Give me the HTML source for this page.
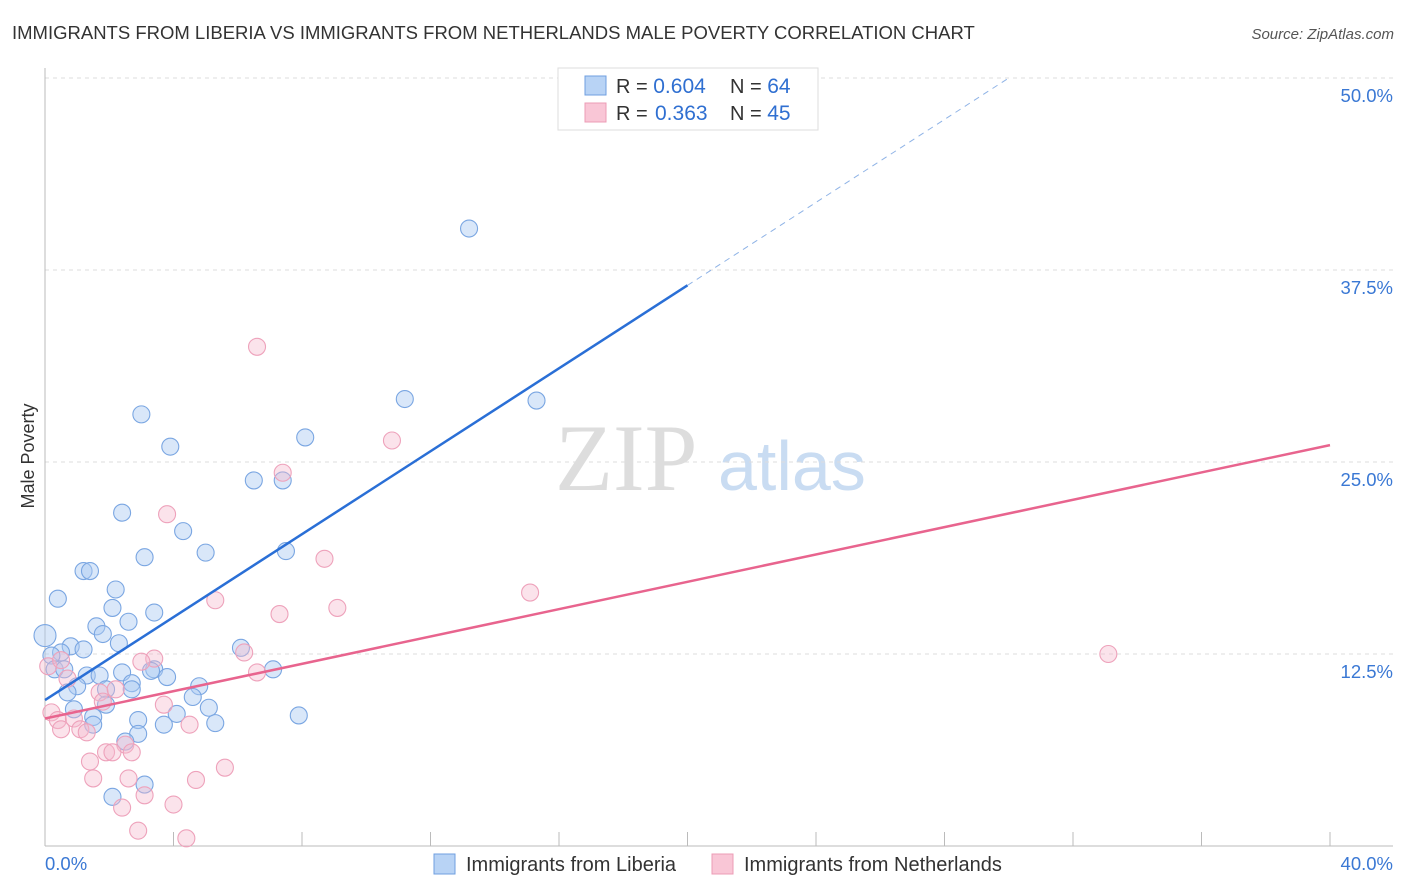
<!DOCTYPE html>
<html><head><meta charset="utf-8">
<style>
body{margin:0;background:#fff;font-family:"Liberation Sans",sans-serif;}
svg{display:block}
</style></head>
<body>
<svg id="chart" width="1406" height="892">
<text x="12" y="39" font-size="18.5" fill="#333">IMMIGRANTS FROM LIBERIA VS IMMIGRANTS FROM NETHERLANDS MALE POVERTY CORRELATION CHART</text>
<text x="1394" y="39" font-size="15" fill="#555" font-style="italic" text-anchor="end">Source: ZipAtlas.com</text>
<text x="34" y="456" font-size="18" fill="#333" text-anchor="middle" transform="rotate(-90 34 456)">Male Poverty</text>
<text x="555" y="490" font-size="95" fill="#ddd" font-family="Liberation Serif,serif">ZIP</text>
<text x="718" y="490" font-size="70" fill="#c9dcf2">atlas</text>
<g id="grid"></g>
<g id="axes"></g>
<g id="marks"></g>
<g id="lines"></g>
<g>
<rect x="558" y="68" width="260" height="62" fill="#fff" stroke="#ddd"/>
<rect x="585" y="76" width="21" height="19" fill="#b8d3f5" stroke="#6f9fe0"/>
<rect x="585" y="103" width="21" height="19" fill="#f9c6d6" stroke="#ec9cb6"/>
<text x="616" y="93" font-size="20" fill="#333">R = <tspan font-size="21" fill="#2f6fd1">0.604</tspan></text>
<text x="730" y="93" font-size="20" fill="#333">N = <tspan font-size="21" fill="#2f6fd1">64</tspan></text>
<text x="616" y="120" font-size="20" fill="#333">R = <tspan x="655" font-size="21" fill="#2f6fd1">0.363</tspan></text>
<text x="730" y="120" font-size="20" fill="#333">N = <tspan font-size="21" fill="#2f6fd1">45</tspan></text>
</g>
<g>
<rect x="434" y="854" width="21" height="20" fill="#b8d3f5" stroke="#6f9fe0"/>
<text x="466" y="871" font-size="20" fill="#333">Immigrants from Liberia</text>
<rect x="712" y="854" width="21" height="20" fill="#f9c6d6" stroke="#ec9cb6"/>
<text x="744" y="871" font-size="20" fill="#333">Immigrants from Netherlands</text>
</g>
</svg>
<script>
const liberiaX=[13.2,11.2,15.3,3.0,3.9,8.1,6.5,7.4,2.4,4.3,5.0,7.5,3.1,1.2,1.4,2.2,0.4,3.4,2.1,2.6,1.6,1.8,2.3,0.0,0.8,1.2,0.5,0.2,6.1,7.1,0.3,0.6,3.4,3.3,2.4,1.3,1.7,3.8,2.7,2.7,1.0,0.7,1.9,4.8,4.6,1.9,5.1,0.9,1.5,4.1,2.9,7.9,5.3,3.7,1.5,2.9,2.5,3.1,2.1];
const liberiaY=[40.2,29.1,29.0,28.1,26.0,26.6,23.8,23.8,21.7,20.5,19.1,19.2,18.8,17.9,17.9,16.7,16.1,15.2,15.5,14.6,14.3,13.8,13.2,13.7,13.0,12.8,12.6,12.4,12.9,11.5,11.5,11.5,11.5,11.4,11.3,11.1,11.1,11.0,10.6,10.2,10.4,10.0,10.2,10.4,9.7,9.2,9.0,8.9,8.4,8.6,8.2,8.5,8.0,7.9,7.9,7.3,6.8,4.0,3.2];
const nethX=[6.6,10.8,7.4,3.8,8.7,15.1,5.3,7.3,9.1,33.1,6.2,3.4,3.0,6.6,0.1,0.5,0.7,1.7,2.2,3.7,1.8,0.2,0.4,0.9,0.5,1.1,1.3,4.5,2.5,1.9,2.1,2.7,1.4,5.6,1.5,2.6,4.7,3.1,4.0,2.4,2.9,4.4];
const nethY=[32.5,26.4,24.3,21.6,18.7,16.5,16.0,15.1,15.5,12.5,12.6,12.2,12.0,11.3,11.7,12.1,10.9,10.0,10.2,9.2,9.4,8.7,8.2,8.3,7.6,7.6,7.4,7.9,6.6,6.1,6.1,6.1,5.5,5.1,4.4,4.4,4.3,3.3,2.7,2.5,1.0,0.5];
const liberiaTrend=[9.5,36.5];   // y at x=0 and x=20
const nethTrend=[8.3,26.1];      // y at x=0 and x=40
const yTicks=[12.5,25.0,37.5,50.0];
const xTickLabels=["0.0%","40.0%"];

const NS="http://www.w3.org/2000/svg";
const X=v=>45+v/40*1285;
const Y=v=>846-v/12.5*192;
function mk(tag,attrs,parent){const e=document.createElementNS(NS,tag);for(const k in attrs)e.setAttribute(k,attrs[k]);parent.appendChild(e);return e;}
const grid=document.getElementById('grid'),axes=document.getElementById('axes'),marks=document.getElementById('marks'),lines=document.getElementById('lines');
yTicks.forEach(t=>{
 const l=mk('line',{x1:45,x2:1393,y1:Y(t),y2:Y(t),stroke:'#ddd','stroke-dasharray':'4,4'},grid);
 
 
 const tx=mk('text',{x:1393,y:Y(t)+24,'font-size':18.5,fill:'#3a78d4','text-anchor':'end'},grid);
 tx.textContent=t.toFixed(1)+'%';
 
 
});
mk('line',{x1:45,x2:45,y1:68,y2:846,stroke:'#bbb'},axes);
mk('line',{x1:45,x2:1393,y1:846,y2:846,stroke:'#bbb'},axes);
for(let i=0;i<=10;i++){const t=mk('line',{x1:X(i*4),x2:X(i*4),y1:832,y2:846,stroke:'#bbb'},axes);
 
 }
const xl0=mk('text',{x:45,y:870,'font-size':18.5,fill:'#3a78d4'},axes);xl0.textContent=xTickLabels[0];


const xl1=mk('text',{x:1393,y:870,'font-size':18.5,fill:'#3a78d4','text-anchor':'end'},axes);xl1.textContent=xTickLabels[1];


function pts(xs,ys,fill,stroke,name){xs.forEach((x,i)=>{const c=mk('circle',{cx:X(x),cy:Y(ys[i]),r:x===0?11:8.5,fill:fill,stroke:stroke,'stroke-width':1.1},marks);
 
 });}
pts(liberiaX,liberiaY,'rgba(170,202,242,0.45)','#7aa6e2','liberia-point');
pts(nethX,nethY,'rgba(246,184,204,0.4)','#eea2bb','netherlands-point');
const slope=(liberiaTrend[1]-liberiaTrend[0])/20;
const bl=mk('line',{x1:X(0),y1:Y(liberiaTrend[0]),x2:X(20),y2:Y(liberiaTrend[1]),stroke:'#2a6fd6','stroke-width':2.5},lines);


const xe=(50-liberiaTrend[0])/slope;
const bd=mk('line',{x1:X(20),y1:Y(liberiaTrend[1]),x2:X(xe),y2:Y(50),stroke:'#8fb3e6','stroke-width':1,'stroke-dasharray':'6,5'},lines);


const pl=mk('line',{x1:X(0),y1:Y(nethTrend[0]),x2:X(40),y2:Y(nethTrend[1]),stroke:'#e8648e','stroke-width':2.5},lines);


</script>
</body></html>
